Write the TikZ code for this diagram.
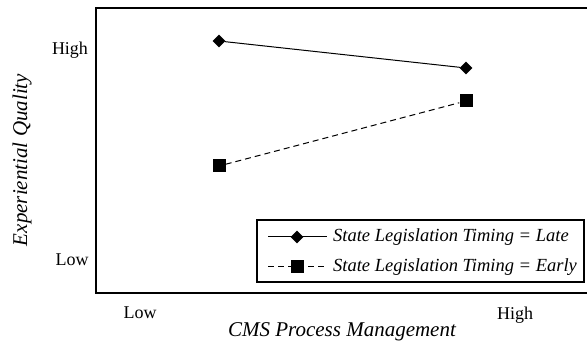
\documentclass[tikz,border=0pt]{standalone}
\usepackage{fontspec}
\setmainfont{Liberation Serif}
\usetikzlibrary{shapes.geometric}

\begin{document}
\begin{tikzpicture}[x=1pt,y=-1pt]
    \tikzset{every node/.append style={inner sep=0pt},
      dia/.style={diamond,fill=black,minimum size=13pt},
      sqr/.style={rectangle,fill=black,minimum size=13pt},
      lab/.style={font=\fontsize{18}{20}\selectfont},
      leg/.style={font=\fontsize{18.5}{20}\selectfont\itshape},
      ttl/.style={font=\fontsize{21}{23}\selectfont\itshape},
      dsh/.style={dash pattern=on 6pt off 4pt}}
    \useasboundingbox (0,0) rectangle (587,347);
    % frame
    \draw [black,line width=1.5pt] (587,8) -- (96,8) -- (96,293) -- (587,293);
    % axis labels
    \node [lab] (yhi) at (70,50) {High};
    \node [lab] (ylo) at (72,260) {Low};
    \node [lab] (xlo) at (140,313) {Low};
    \node [lab] (xhi) at (515,315) {High};
    \node [ttl] (xt) at (342,332) {CMS Process Management};
    \node [ttl,rotate=90] (yt) at (22,160) {Experiential Quality};
    % late
    \node [dia] (l1) at (219,41) {};
    \node [dia] (l2) at (466,68) {};
    \draw [black,line width=1pt] (l1) -- (l2);
    % early
    \node [sqr] (e1) at (219,166) {};
    \node [sqr] (e2) at (466,101) {};
    \draw [black,line width=1pt,dsh] (e1) -- (e2);
    % legend
    \draw [black,line width=1.3pt] (257,220) rectangle (584,282);
    \coordinate (a1) at (268,237);
    \coordinate (b1) at (327,237);
    \node [dia] (m1) at (297,237) {};
    \draw [black,line width=1pt] (a1) -- (b1);
    \node [leg,anchor=west] (t1) at (333,237) {State Legislation Timing = Late};
    \coordinate (a2) at (268,267);
    \coordinate (b2) at (327,267);
    \node [sqr] (m2) at (297,267) {};
    \draw [black,line width=1pt,dsh] (a2) -- (b2);
    \node [leg,anchor=west] (t2) at (333,267) {State Legislation Timing = Early};
\end{tikzpicture}
\end{document}
